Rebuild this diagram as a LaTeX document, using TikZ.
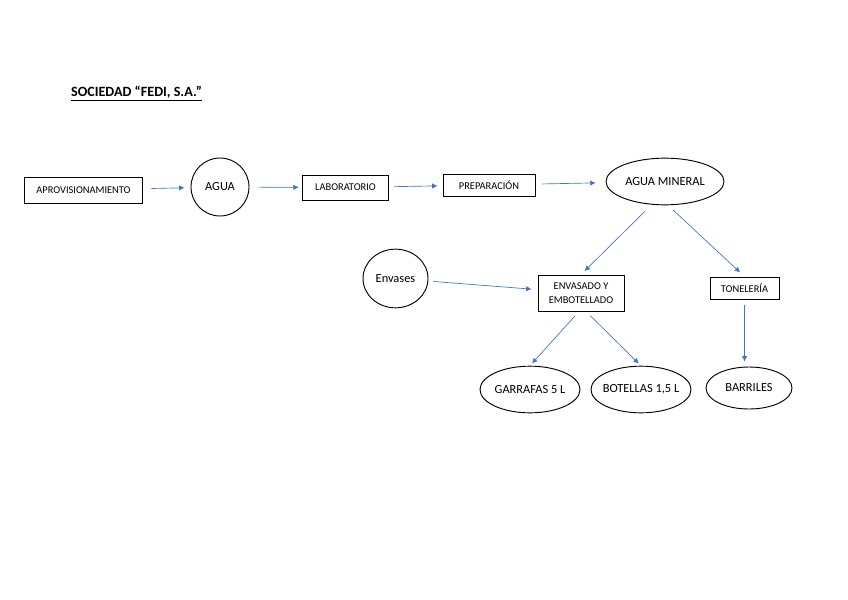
\documentclass[tikz,border=0pt]{standalone}
\usepackage{fontspec}
\setmainfont{Carlito}
\usetikzlibrary{arrows.meta,shapes.geometric}
\definecolor{azul}{RGB}{68,114,196}

\begin{document}
\begin{tikzpicture}[x=0.75pt,y=-0.75pt,
  caja/.style={draw, rectangle, line width=0.7pt, inner sep=0pt, align=center,
    font=\fontsize{7.8}{11}\selectfont},
  bola/.style={draw, ellipse, line width=0.7pt, inner ysep=0pt, inner xsep=-8pt,
    font=\fontsize{9.3}{10}\selectfont},
  flecha/.style={-{Latex[length=4pt,width=4pt]}, color=azul, line width=0.5pt}]
  \useasboundingbox (0,0) rectangle (848,599);

  \node (titulo) at (136.5,94) {\fontsize{10.6}{12}\selectfont\underline{\textbf{SOCIEDAD “FEDI, S.A.”}}};

  \node[caja, minimum width=89pt, minimum height=19.5pt] (aprov) at (83.5,190) {APROVISIONAMIENTO};
  \node[bola, circle, minimum size=43.5pt] (agua) at (220,187) {AGUA};
  \node[caja, minimum width=65pt, minimum height=18.75pt] (lab) at (345.5,187.5) {LABORATORIO};
  \node[caja, minimum width=69pt, minimum height=16.5pt] (prep) at (489,185) {PREPARACIÓN};
  \node[bola, minimum width=88.5pt, minimum height=35pt] (mineral) at (665,181.5) {AGUA MINERAL};

  \node[bola, minimum width=48.75pt, minimum height=44pt] (envases) at (395.5,278.5) {Envases};
  \node[caja, minimum width=64.5pt, minimum height=27pt] (envasado) at (581,293) {ENVASADO Y\\EMBOTELLADO};
  \node[caja, minimum width=51.75pt, minimum height=16.5pt] (tonel) at (744.5,288) {TONELERÍA};

  \node[bola, minimum width=75pt, minimum height=35pt] (garrafas) at (530,389.5) {GARRAFAS 5 L};
  \node[bola, minimum width=75pt, minimum height=35pt] (botellas) at (641,389.5) {BOTELLAS 1,5 L};
  \node[bola, minimum width=64.5pt, minimum height=31.5pt] (barriles) at (749,388) {BARRILES};

  \path[flecha]
  (aprov) edge [shorten <=6pt, shorten >=4.5pt] (agua)
  (agua) edge [shorten <=6.75pt, shorten >=2.25pt] (lab)
  (lab) edge [shorten <=3.75pt, shorten >=3.75pt] (prep)
  (prep) edge [shorten <=5.25pt, shorten >=7.5pt] (mineral)
  ([xshift=-10.5pt]mineral.south) edge [shorten <=6pt, shorten >=3.75pt] (envasado.north)
  ([xshift=2.25pt]mineral.south) edge [shorten <=5.25pt, shorten >=4.5pt] (tonel.north)
  (envases) edge [shorten <=3.75pt, shorten >=4.5pt] (envasado)
  ([xshift=-1.5pt]envasado.south) edge [shorten <=4.5pt, shorten >=2.25pt] (garrafas.north)
  ([xshift=3.75pt]envasado.south) edge [shorten <=4.5pt, shorten >=2.25pt] (botellas.north)
  (tonel.south) edge [shorten <=4.5pt, shorten >=3.75pt] (tonel.south |- barriles.north);
\end{tikzpicture}
\end{document}
